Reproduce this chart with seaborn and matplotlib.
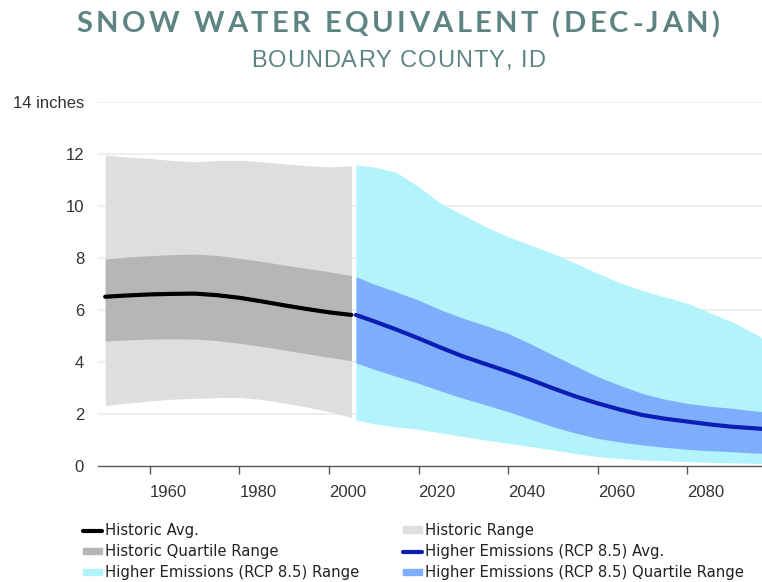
import numpy as np
import matplotlib
matplotlib.use('Agg')
import matplotlib.pyplot as plt
import seaborn as sns
import pandas as pd
from matplotlib.patches import Patch
from matplotlib.lines import Line2D

# historic observations (inches)
hist_years = [1950, 1955, 1960, 1965, 1970, 1975, 1980, 1985, 1990, 1995, 2000, 2005]
hist_avg = [6.51, 6.56, 6.60, 6.62, 6.63, 6.57, 6.47, 6.33, 6.18, 6.04, 5.91, 5.81]
hist_max = [11.96, 11.88, 11.83, 11.75, 11.70, 11.75, 11.76, 11.70, 11.62, 11.55, 11.50, 11.55]
hist_min = [2.32, 2.42, 2.50, 2.57, 2.60, 2.63, 2.64, 2.56, 2.42, 2.27, 2.09, 1.86]
hist_q3 = [7.96, 8.04, 8.09, 8.13, 8.15, 8.10, 7.99, 7.87, 7.73, 7.60, 7.47, 7.32]
hist_q1 = [4.81, 4.85, 4.88, 4.89, 4.88, 4.82, 4.72, 4.60, 4.46, 4.32, 4.18, 4.05]

# higher emissions RCP 8.5 projection
rcp_years = [2006, 2010, 2015, 2020, 2025, 2030, 2035, 2040, 2045, 2050,
             2055, 2060, 2065, 2070, 2075, 2080, 2085, 2090, 2095, 2099]
rcp_avg = [5.81, 5.57, 5.25, 4.91, 4.55, 4.21, 3.92, 3.63, 3.32, 2.99,
           2.68, 2.41, 2.17, 1.96, 1.82, 1.71, 1.60, 1.51, 1.45, 1.40]
rcp_max = [11.58, 11.50, 11.30, 10.74, 10.10, 9.65, 9.20, 8.82, 8.50, 8.18,
           7.80, 7.41, 7.05, 6.75, 6.50, 6.26, 5.90, 5.55, 5.10, 4.70]
rcp_min = [1.77, 1.62, 1.50, 1.41, 1.27, 1.13, 1.00, 0.87, 0.75, 0.62,
           0.48, 0.36, 0.28, 0.23, 0.20, 0.17, 0.14, 0.12, 0.10, 0.09]
rcp_q3 = [7.28, 7.00, 6.70, 6.38, 6.00, 5.68, 5.40, 5.10, 4.70, 4.27,
          3.85, 3.44, 3.10, 2.79, 2.57, 2.41, 2.30, 2.22, 2.12, 2.05]
rcp_q1 = [3.97, 3.72, 3.45, 3.18, 2.88, 2.60, 2.35, 2.09, 1.80, 1.51,
          1.27, 1.06, 0.92, 0.81, 0.72, 0.64, 0.59, 0.55, 0.50, 0.47]

yticks = [0, 2, 4, 6, 8, 10, 12, 14]
ytick_labels = ['0', '2', '4', '6', '8', '10', '12', '14 inches']
xticks = [1960, 1980, 2000, 2020, 2040, 2060, 2080]

c_hist_range = '#dedede'
c_hist_q = '#b6b6b6'
c_rcp_range = '#b3f4fc'
c_rcp_q = '#7eaefb'
c_rcp_avg = '#0a1eb4'
c_title = '#5d8482'

W, H = 762, 582


def tracked_text(fig, s, xc, yc, track, **kw):
    # draw caps text char by char with extra letter spacing (px)
    r = fig.canvas.get_renderer()
    base = fig.text(0, 0, 'HH', **kw)
    wbase = base.get_window_extent(r).width
    base.remove()
    adv = []
    for ch in s:
        t = fig.text(0, 0, 'H' + ch + 'H', **kw)
        adv.append(t.get_window_extent(r).width - wbase)
        t.remove()
    total = sum(adv) + track * (len(s) - 1)
    x = xc - total / 2
    for ch, a in zip(s, adv):
        if ch != ' ':
            fig.text(x / W, 1 - yc / H, ch, ha='left', va='center_baseline', **kw)
        x += a + track


hist = pd.DataFrame({'year': hist_years, 'avg': hist_avg, 'lo': hist_min,
                     'hi': hist_max, 'q1': hist_q1, 'q3': hist_q3})
rcp = pd.DataFrame({'year': rcp_years, 'avg': rcp_avg, 'lo': rcp_min,
                    'hi': rcp_max, 'q1': rcp_q1, 'q3': rcp_q3})

sns.set_theme(style='white')
plt.rcParams['font.family'] = ['Liberation Sans', 'DejaVu Sans']

fig = plt.figure(figsize=(W / 100, H / 100), dpi=100)
ax = fig.add_axes([98 / W, 1 - 466 / H, 1 - 98 / W, (466 - 102) / H])

for y in yticks[1:]:
    ax.axhline(y, color='#ebebeb', lw=1.2, zorder=0)

ax.fill_between(hist['year'], hist['lo'], hist['hi'], color=c_hist_range, lw=0, zorder=1)
ax.fill_between(hist['year'], hist['q1'], hist['q3'], color=c_hist_q, lw=0, zorder=2)
ax.fill_between(rcp['year'], rcp['lo'], rcp['hi'], color=c_rcp_range, lw=0, zorder=1)
ax.fill_between(rcp['year'], rcp['q1'], rcp['q3'], color=c_rcp_q, lw=0, zorder=2)
sns.lineplot(data=hist, x='year', y='avg', ax=ax, color='black', lw=3, zorder=3)
sns.lineplot(data=rcp, x='year', y='avg', ax=ax, color=c_rcp_avg, lw=3, zorder=3)

ax.set_xlim(1948.4, 2096.7)
ax.set_ylim(0, 14)
ax.set_xlabel('')
ax.set_ylabel('')
ax.set_yticks(yticks)
ax.set_yticklabels(ytick_labels)
ax.set_xticks(xticks)
ax.set_xticklabels([str(x) for x in xticks], ha='left')
ax.tick_params(axis='y', length=0, pad=10, labelsize=12, labelcolor='#333333')
ax.tick_params(axis='x', length=6, width=1, color='#555555', pad=8,
               labelsize=12, labelcolor='#333333', direction='out', bottom=True)
for s in ['top', 'right', 'left']:
    ax.spines[s].set_visible(False)
ax.spines['bottom'].set_color('#555555')
ax.spines['bottom'].set_linewidth(1)

# titles
tracked_text(fig, 'SNOW WATER EQUIVALENT (DEC-JAN)', 398, 22, 3.4,
             fontsize=21, fontweight='bold', color=c_title, family='Lato')
tracked_text(fig, 'BOUNDARY COUNTY, ID', 398, 58.5, 1.0,
             fontsize=17, color=c_title, family='Liberation Sans')

handles = [
    Line2D([], [], color='black', lw=3),
    Patch(color=c_hist_q),
    Patch(color=c_rcp_range),
    Patch(color=c_hist_range),
    Line2D([], [], color=c_rcp_avg, lw=3),
    Patch(color=c_rcp_q),
]
labels = ['Historic Avg.', 'Historic Quartile Range', 'Higher Emissions (RCP 8.5) Range',
          'Historic Range', 'Higher Emissions (RCP 8.5) Avg.',
          'Higher Emissions (RCP 8.5) Quartile Range']
leg = fig.legend(handles, labels, ncol=2, loc='upper left',
                 bbox_to_anchor=(83 / W, 1 - 523 / H), frameon=False,
                 prop={'family': 'DejaVu Sans', 'size': 10.7}, handlelength=1.3,
                 handleheight=0.3, handletextpad=0.2, columnspacing=2.9,
                 labelspacing=0.42, borderaxespad=0, borderpad=0)
for t in leg.get_texts():
    t.set_color('#222222')

fig.savefig('out.png', dpi=100)
